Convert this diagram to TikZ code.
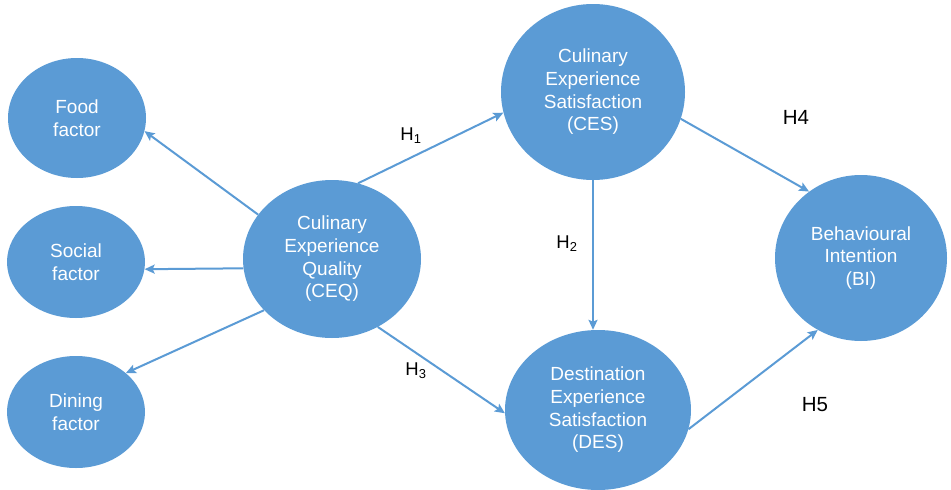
\documentclass[tikz,border=0pt]{standalone}
\usepackage{fontspec}
\setmainfont{Liberation Sans}
\usetikzlibrary{shapes.geometric,arrows.meta}
\definecolor{bblue}{RGB}{91,155,213}
\begin{document}
\begin{tikzpicture}[x=1pt,y=-1pt,
  bub/.style={ellipse, fill=bblue, draw=none, inner sep=0pt, text=white, align=center,
    font=\fontsize{19}{22.7}\selectfont},
  arr/.style={draw=bblue, line width=2pt, -{Stealth[length=10pt,width=9pt,inset=2pt]}},
  hlab/.style={font=\fontsize{18.5}{20}\selectfont, inner sep=0pt},
  hbig/.style={font=\fontsize{20.5}{22}\selectfont, inner sep=0pt}]
\useasboundingbox (0,0) rectangle (951,490);
\node[bub, minimum width=138pt, minimum height=120pt] (food) at (77,118) {Food\\factor};
\node[bub, minimum width=138pt, minimum height=112pt] (social) at (76,262) {Social\\factor};
\node[bub, minimum width=138pt, minimum height=112pt] (dining) at (76,412) {Dining\\factor};
\node[bub, minimum width=178pt, minimum height=158pt] (ceq) at (332,259) {Culinary\\Experience\\Quality\\(CEQ)};
\node[bub, minimum width=184pt, minimum height=176pt] (ces) at (593,92) {Culinary\\Experience\\Satisfaction\\(CES)};
\node[bub, minimum width=186pt, minimum height=160pt] (des) at (598,410) {Destination\\Experience\\Satisfaction\\(DES)};
\node[bub, minimum width=172pt, minimum height=166pt] (bi) at (861,258) {Behavioural\\Intention\\(BI)};
\draw[arr] (ceq.149) -- (food.-11);
\draw[arr] (ceq.186.5) -- (social.-6);
\draw[arr] (ceq.217) -- (dining.38);
\draw[arr] (ceq.71) -- (ces.193);
\draw[arr] (ceq.-56) -- (des.182);
\draw[arr] (ces.south) -- (ces.south |- des.north);
\draw[arr] (ces.-17) -- (bi.128);
\draw[arr] (des.-12) -- (bi.239);
\node[hlab] (h1) at (411,136) {H\textsubscript{1}};
\node[hlab] (h2) at (567,244) {H\textsubscript{2}};
\node[hlab] (h3) at (416,371) {H\textsubscript{3}};
\node[hbig] (h4) at (796,117) {H4};
\node[hbig] (h5) at (815,405) {H5};
\end{tikzpicture}
\end{document}
